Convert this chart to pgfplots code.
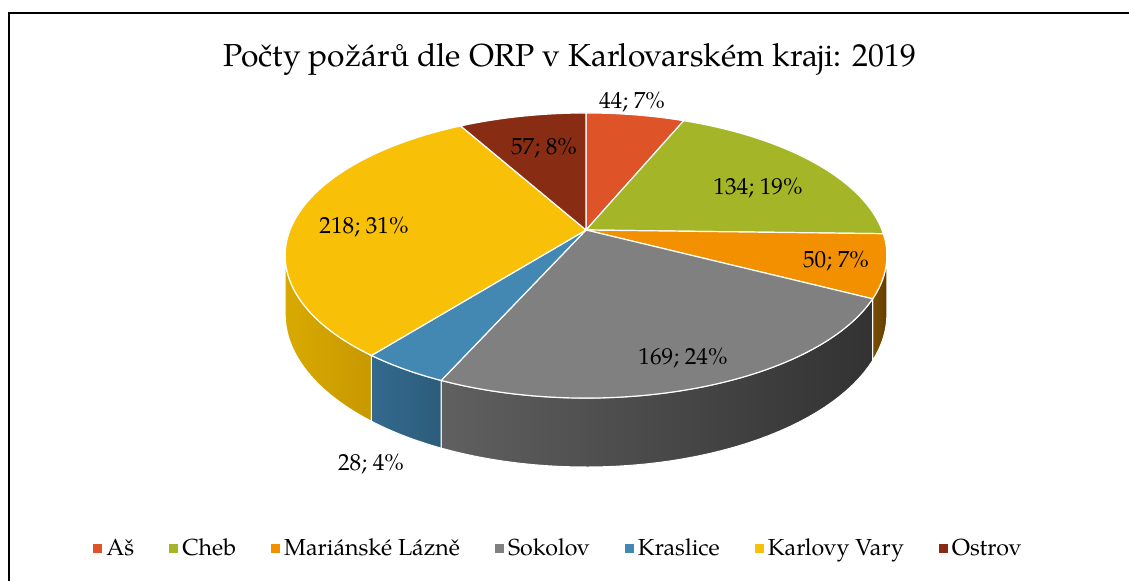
\documentclass[border=0pt]{standalone}
\usepackage{fontspec}
\setmainfont{TeX Gyre Pagella}
\usepackage{pgfplots}
\usepackage{pgfplotstable}
\pgfplotsset{compat=1.18}

\definecolor{cAs}{RGB}{222,83,40}
\definecolor{cCheb}{RGB}{165,181,40}
\definecolor{cML}{RGB}{242,144,0}
\definecolor{cSok}{RGB}{128,128,128}
\definecolor{cKra}{RGB}{66,136,178}
\definecolor{cKV}{RGB}{249,192,8}
\definecolor{cOst}{RGB}{137,44,20}

% fires per ORP, in the order drawn clockwise from 12 o'clock
\pgfplotstableread{
value
44
134
50
169
28
218
57
}\pietable

\pgfplotstablegetelem{0}{value}\of\pietable\edef\vA{\pgfplotsretval}
\pgfplotstablegetelem{1}{value}\of\pietable\edef\vB{\pgfplotsretval}
\pgfplotstablegetelem{2}{value}\of\pietable\edef\vC{\pgfplotsretval}
\pgfplotstablegetelem{3}{value}\of\pietable\edef\vD{\pgfplotsretval}
\pgfplotstablegetelem{4}{value}\of\pietable\edef\vE{\pgfplotsretval}
\pgfplotstablegetelem{5}{value}\of\pietable\edef\vF{\pgfplotsretval}
\pgfplotstablegetelem{6}{value}\of\pietable\edef\vG{\pgfplotsretval}
\pgfmathsetmacro\tot{\vA+\vB+\vC+\vD+\vE+\vF+\vG}
\pgfmathsetmacro\aA{0}
\pgfmathsetmacro\aB{\aA+360*(\vA/\tot)}
\pgfmathsetmacro\aC{\aB+360*(\vB/\tot)}
\pgfmathsetmacro\aD{\aC+360*(\vC/\tot)}
\pgfmathsetmacro\aE{\aD+360*(\vD/\tot)}
\pgfmathsetmacro\aF{\aE+360*(\vE/\tot)}
\pgfmathsetmacro\aG{\aF+360*(\vF/\tot)}
\pgfmathsetmacro\aH{360}
% silhouette angles of the perspective ellipse
\pgfmathsetmacro\sRt{acos(-0.179)}
\pgfmathsetmacro\sLt{360-\sRt}
\def\lbl{\fontsize{11.6}{13}\selectfont}

\begin{document}%
\begin{tikzpicture}
\begin{axis}[
  name=ax,
  x=0.5pt, y=0.5pt, y dir=reverse,
  xmin=0, xmax=1129, ymin=0, ymax=581,
  hide axis, clip=false,
  declare function={
    px(\s)=586+296*sin(\s)/(1+0.179*cos(\s));
    py(\s)=230-138*cos(\s)/(1+0.179*cos(\s));
    pb(\s)=py(\s)+56.6/(1+0.179*cos(\s));
    sp(\t,\a,\b)=(\t<1.0125) ? (\a+min(\t,1)*(\b-\a)) : (\b-(\t-1.025)/0.975*(\b-\a));
    sideX(\t,\a,\b)=px(sp(\t,\a,\b));
    sideY(\t,\a,\b)=(\t<1.0125) ? py(sp(\t,\a,\b)) : pb(sp(\t,\a,\b));
  },
  legend columns=-1,
  legend cell align=left,
  legend image code/.code={\fill[#1,draw=none] (0pt,-2.25pt) rectangle (4.5pt,2.25pt);},
  legend style={at={(axis cs:559.5,549)}, anchor=center, draw=none, fill=none,
    font=\lbl, /tikz/every even column/.append style={column sep=15.5pt}},
]
% frame
\addplot[forget plot, black, line width=1pt] coordinates {(8.5,581) (8.5,13.5) (1129,13.5)};

% side faces
\addplot[forget plot, draw=white, line width=0.5pt, left color={rgb,255:red,122;green,78;blue,0}, right color={rgb,255:red,100;green,62;blue,0}, domain=0:2, samples=81]
  ({sideX(\x,\sRt,\aD)},{sideY(\x,\sRt,\aD)}) -- cycle;
\addplot[forget plot, draw=white, line width=0.5pt, left color={rgb,255:red,96;green,96;blue,96}, right color={rgb,255:red,50;green,50;blue,50}, domain=0:2, samples=81]
  ({sideX(\x,\aD,\aE)},{sideY(\x,\aD,\aE)}) -- cycle;
\addplot[forget plot, draw=white, line width=0.5pt, left color={rgb,255:red,52;green,106;blue,142}, right color={rgb,255:red,44;green,92;blue,122}, domain=0:2, samples=81]
  ({sideX(\x,\aE,\aF)},{sideY(\x,\aE,\aF)}) -- cycle;
\addplot[forget plot, draw=white, line width=0.5pt, left color={rgb,255:red,216;green,170;blue,0}, right color={rgb,255:red,200;green,152;blue,0}, domain=0:2, samples=81]
  ({sideX(\x,\aF,\sLt)},{sideY(\x,\aF,\sLt)}) -- cycle;

% top faces
\addplot[fill=cAs, draw=white, line width=0.6pt, domain=\aA:\aB, samples=30] ({px(\x)},{py(\x)}) -- (586,230) -- cycle;
\addlegendentry{Aš}
\addplot[fill=cCheb, draw=white, line width=0.6pt, domain=\aB:\aC, samples=60] ({px(\x)},{py(\x)}) -- (586,230) -- cycle;
\addlegendentry{Cheb}
\addplot[fill=cML, draw=white, line width=0.6pt, domain=\aC:\aD, samples=30] ({px(\x)},{py(\x)}) -- (586,230) -- cycle;
\addlegendentry{Mariánské Lázně}
\addplot[fill=cSok, draw=white, line width=0.6pt, domain=\aD:\aE, samples=70] ({px(\x)},{py(\x)}) -- (586,230) -- cycle;
\addlegendentry{Sokolov}
\addplot[fill=cKra, draw=white, line width=0.6pt, domain=\aE:\aF, samples=20] ({px(\x)},{py(\x)}) -- (586,230) -- cycle;
\addlegendentry{Kraslice}
\addplot[fill=cKV, draw=white, line width=0.6pt, domain=\aF:\aG, samples=80] ({px(\x)},{py(\x)}) -- (586,230) -- cycle;
\addlegendentry{Karlovy Vary}
\addplot[fill=cOst, draw=white, line width=0.6pt, domain=\aG:\aH, samples=30] ({px(\x)},{py(\x)}) -- (586,230) -- cycle;
\addlegendentry{Ostrov}

% title and data labels
\node[anchor=base, font=\fontsize{15.9}{18}\selectfont] at (axis cs:570,66.7) {Počty požárů dle ORP v Karlovarském kraji: 2019};
\node[anchor=base, font=\lbl] at (axis cs:632,108.3) {44; 7\%};
\node[anchor=base, font=\lbl] at (axis cs:758,195) {134; 19\%};
\node[anchor=base, font=\lbl] at (axis cs:836,267.3) {50; 7\%};
\node[anchor=base, font=\lbl] at (axis cs:683,365) {169; 24\%};
\node[anchor=base, font=\lbl] at (axis cs:371,470.7) {28; 4\%};
\node[anchor=base, font=\lbl] at (axis cs:364,233.3) {218; 31\%};
\node[anchor=base, font=\lbl] at (axis cs:544,155) {57; 8\%};
\end{axis}
\pgfresetboundingbox
\useasboundingbox (ax.south west) rectangle (ax.north east);
\end{tikzpicture}%
\end{document}
